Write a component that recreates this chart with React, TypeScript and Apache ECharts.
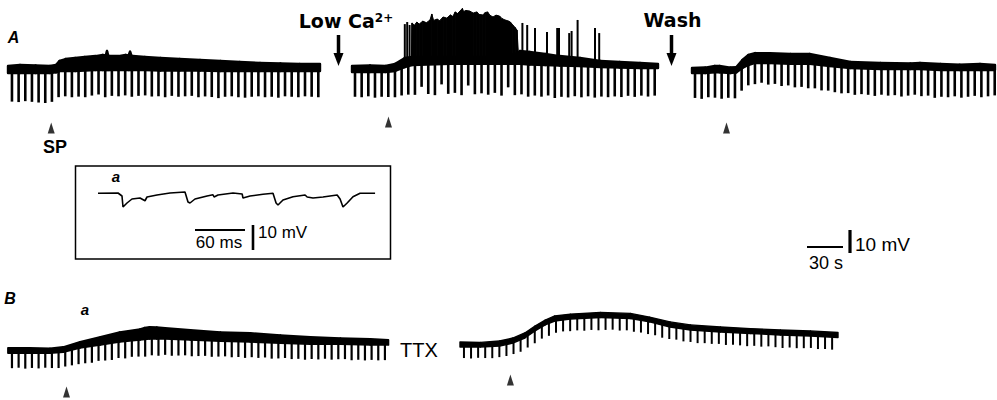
import React, { useEffect, useRef } from "react";
import * as echarts from "echarts";

// ---------- scales (figure calibration: 30 s = 36 px, 10 mV = 23 px) ----------
const PX_PER_S = 1.2;
const PX_PER_MV = 2.3;
const PULSE_PERIOD_S = 5.55;
const PULSE_PERIOD_B2_S = 5.9;

// ---------- A1: control ----------
const A1_T = [0, 10, 23, 35, 40, 43, 48, 56, 64, 73, 79, 81.5, 82.5, 83.5, 85, 92, 98, 100.5, 101.7, 103, 104, 114, 127, 143, 160, 177, 193, 210, 227, 243, 260];
const A1_TOP = [2.8, 3.2, 3.0, 2.8, 3.2, 5.0, 5.8, 6.3, 6.7, 7.1, 7.6, 7.4, 9.3, 7.3, 7.1, 7.1, 7.6, 7.4, 9.0, 7.2, 7.1, 6.7, 6.3, 5.8, 5.4, 5.0, 4.5, 4.1, 3.9, 3.7, 3.7];
const A1_BOT = [-0.3, -0.3, -0.3, -0.3, 0, 0.6, 0.6, 0.6, 0.8, 1.0, 1.0, 1.0, 1.0, 1.0, 1.0, 1.0, 1.0, 1.0, 1.0, 1.0, 1.0, 1.0, 0.8, 0.8, 0.8, 0.6, 0.6, 0.6, 0.6, 0.6, 0.6];
const A1_PULSE_DEPTH = [12.4, 12.6, 12.2, 12.5, 12.8, 13.0, 12.6, 11.2, 11.0, 11.4, 11.2, 11.6, 11.0, 10.6, 11.8, 11.2, 11.4, 11.0, 11.6, 11.2, 11.0, 11.4, 11.2, 11.6, 11.0, 11.4, 11.2, 11.0, 11.6, 11.2, 11.4, 11.8, 11.2, 11.0, 11.4, 11.6, 11.2, 11.0, 11.4, 11.2, 11.6, 11.0, 11.2, 11.4, 11.0, 11.2, 11.4];
const A1_PULSE_START = 3.3;
const A1_STIM_T = 36;

// ---------- A2: low Ca2+ ----------
const A2_T = [0, 15, 28, 36, 40, 44, 50, 82, 123, 138, 140, 148, 161, 173, 190, 207, 223, 240, 255];
const A2_TOP = [2.8, 3.0, 2.8, 3.7, 5.0, 6.3, 6.7, 6.7, 6.7, 8.4, 9.3, 8.9, 8.0, 7.1, 6.3, 5.0, 4.5, 4.1, 3.7];
const A2_BOT = [0.2, 0.2, 0.2, 0.6, 1.5, 2.3, 3.2, 3.7, 3.7, 3.7, 3.7, 3.4, 3.2, 3.0, 2.8, 2.3, 2.1, 1.9, 1.9];
const A2_PULSE_DEPTH = [10.8, 11.0, 10.6, 11.2, 10.8, 11.0, 11.4, 11.8, 12.4, 13.0, 9.6, 12.8, 13.4, 8.8, 13.0, 12.6, 13.6, 9.4, 13.2, 12.8, 13.4, 12.6, 13.8, 10.2, 13.6, 13.2, 14.0, 13.4, 13.8, 13.2, 14.2, 13.6, 13.8, 13.2, 13.6, 13.0, 13.4, 12.8, 13.0, 12.6, 12.8, 12.2, 12.6, 12.0, 12.4, 12.0];
const A2_PULSE_START = 2.5;
const A2_STIM_T = 30.4;
const A2_BURST_T = [49.5, 50, 52, 54, 56, 59, 62, 65, 66.5, 68, 71, 73, 76, 79, 82, 84, 86, 88, 90, 92, 93, 95, 98, 101, 104, 106, 109, 111, 113, 115, 117.5, 120, 123, 125, 127.5, 130, 132, 134, 136, 137.5, 138.5];
const A2_BURST_TOP = [6.0, 21.5, 20.5, 21.9, 21.0, 22.3, 21.6, 22.8, 25.4, 22.6, 23.2, 22.5, 24.1, 23.6, 25.0, 24.3, 26.3, 25.6, 26.7, 27.8, 26.5, 26.9, 26.7, 25.8, 26.3, 25.2, 25.0, 26.0, 26.3, 24.8, 24.1, 24.9, 24.5, 23.4, 22.8, 22.4, 21.9, 20.6, 19.5, 18.4, 9.7];
const A2_BURST_BASE = 5;
const A2_SPIKE_T = [44, 46, 48, 142, 146, 152.5, 162.5, 171, 172.5, 181, 183, 188, 202.5, 206];
const A2_SPIKE_TOP = [21.0, 21.9, 20.6, 21.5, 20.6, 19.3, 17.6, 19.3, 19.3, 17.1, 18.0, 22.8, 19.3, 17.1];

// ---------- A3: wash ----------
const A3_T = [0, 11, 19, 23, 32, 37, 42, 47, 52.5, 65, 82, 98, 115, 132, 157, 182, 190, 207, 223, 240, 252.5];
const A3_TOP = [1.9, 2.1, 2.8, 2.8, 2.1, 2.3, 5.4, 7.6, 8.4, 8.4, 8.0, 8.0, 6.3, 4.5, 4.1, 3.9, 4.1, 3.7, 3.4, 3.7, 3.2];
const A3_BOT = [-0.3, -0.3, 0, 0, -0.3, 0, 1.9, 3.2, 4.1, 4.1, 3.7, 3.7, 2.8, 1.9, 1.5, 1.5, 1.5, 1.0, 1.0, 1.0, 1.0];
const A3_PULSE_DEPTH = [10.8, 11.2, 10.6, 11.0, 11.4, 10.8, 11.2, 9.6, 8.8, 9.2, 8.6, 9.4, 9.0, 9.8, 9.4, 10.2, 10.0, 10.6, 10.4, 11.0, 10.8, 11.2, 11.4, 11.0, 11.6, 11.2, 11.4, 11.8, 11.2, 11.6, 11.4, 12.0, 11.6, 11.2, 11.8, 11.4, 12.2, 11.6, 11.8, 11.4, 12.0, 11.6, 11.2, 11.8, 11.4, 11.0];
const A3_PULSE_START = 2.5;
const A3_STIM_T = 28.75;

// ---------- B1: control ----------
const B1_T = [0, 18, 35, 46, 60, 77, 93, 110, 114, 118, 124, 131, 152, 177, 202, 227, 252, 277, 302, 317];
const B1_TOP = [2.2, 2.2, 2.0, 2.6, 4.8, 7.0, 9.1, 10.4, 11.0, 11.3, 11.2, 10.9, 10.0, 9.1, 8.7, 7.8, 7.0, 6.5, 6.1, 5.7];
const B1_BOT = [0, 0, 0, 0.4, 2.2, 3.5, 4.8, 5.7, 5.9, 6.1, 6.1, 6.1, 5.7, 5.2, 4.8, 4.3, 3.9, 3.9, 3.5, 3.5];
const B1_PULSE_DEPTH = [6.6, 6.4, 6.8, 6.5, 6.7, 6.4, 6.6, 6.8, 6.5, 6.7, 6.9, 7.0, 7.2, 6.8, 7.1, 7.3, 6.9, 7.4, 7.0, 7.2, 7.5, 7.1, 7.3, 6.9, 7.2, 7.0, 6.8, 7.1, 6.9, 6.7, 7.0, 6.8, 6.6, 6.9, 6.7, 7.0, 6.6, 6.8, 6.5, 6.9, 6.7, 6.4, 6.8, 6.6, 6.9, 6.5, 6.7, 6.4, 6.8, 6.6, 6.5, 6.9, 6.6, 6.8, 6.5, 6.7, 6.6];
const B1_PULSE_START = 3.3;
const B1_STIM_T = 48.75;

// ---------- B2: TTX ----------
const B2_T = [0, 17, 33, 44, 54, 62.5, 71, 79, 92, 117, 142, 158, 175, 192, 217, 242, 267, 292, 315];
const B2_TOP = [2.2, 2.0, 2.6, 3.9, 6.1, 9.1, 11.7, 13.5, 14.3, 15.0, 14.6, 13.0, 10.9, 9.6, 8.7, 8.0, 7.4, 7.0, 6.3];
const B2_BOT = [0, 0, 0.4, 1.7, 3.9, 7.0, 9.6, 11.3, 12.2, 12.8, 12.4, 10.9, 8.7, 7.4, 6.5, 5.9, 5.2, 4.8, 4.1];
const B2_PULSE_DEPTH = [4.8, 5.0, 4.7, 4.9, 5.1, 4.8, 5.0, 4.9, 5.2, 5.0, 5.3, 5.1, 5.4, 5.2, 5.0, 5.3, 5.1, 5.4, 5.2, 5.5, 5.3, 5.1, 5.4, 5.2, 5.5, 5.3, 5.4, 5.2, 5.5, 5.3, 5.1, 5.4, 5.2, 5.5, 5.3, 5.4, 5.2, 5.5, 5.3, 5.4, 5.6, 5.3, 5.5, 5.2, 5.4, 5.6, 5.3, 5.5, 5.4, 5.2, 5.5, 5.3, 5.4];
const B2_PULSE_START = 3.3;
const B2_STIM_T = 42;

// ---------- inset a (fast sweep) ----------
const INSET_T_MS = [0, 24, 28.8, 30, 34.8, 40.8, 50.4, 56.4, 58.8, 70.8, 86.4, 104.4, 108, 110.4, 116.4, 130.9, 138, 139.3, 144, 162, 173, 174, 182.5, 198, 210, 213.7, 216, 222, 234, 248.5, 251, 258, 270, 287, 290.5, 294, 299, 306, 314.5, 332.5];
const INSET_MV = [-0.1, 0, -1.2, -5.6, -4.0, -2.4, -2.0, -3.1, -1.6, -0.8, 0, 0.4, -3.6, -4.0, -2.4, -1.2, -0.7, -1.6, -0.8, 0, -0.4, -2.0, -1.2, -0.5, -0.1, -4.0, -4.8, -2.8, -1.5, -0.8, -1.6, -2.0, -1.6, -0.8, -2.4, -5.6, -4.0, -1.5, -0.1, -0.1];
const INSET_PX_PER_MS = 0.8333;
const INSET_PX_PER_MV = 2.5;

// ---------- scale bars ----------
const SCALE_MAIN = { t: 30, mv: 10, tLabel: "30 s", mvLabel: "10 mV" };
const SCALE_INSET = { t: 60, mv: 10, tLabel: "60 ms", mvLabel: "10 mV" };

const FONT = '"Liberation Sans", Arial, Helvetica, sans-serif';
const FONT_WIDE = '"DejaVu Sans", "Liberation Sans", sans-serif';

function interp(ts: number[], vs: number[], t: number) {
  if (t <= ts[0]) return vs[0];
  for (let i = 1; i < ts.length; i++) {
    if (t <= ts[i]) {
      const f = (t - ts[i - 1]) / (ts[i] - ts[i - 1]);
      return vs[i - 1] + f * (vs[i] - vs[i - 1]);
    }
  }
  return vs[vs.length - 1];
}

// band between a lower and an upper envelope, one quad per sample interval
function bandSeries(name: string, g: number, T: number[], TOP: number[], BOT: number[], edge: number, z: number) {
  return {
    type: "custom", name, xAxisIndex: g, yAxisIndex: g, silent: true, z,
    data: T.map((t, i) => [t, TOP[i], BOT[i]]),
    renderItem: (p: any, api: any) => {
      const i = p.dataIndex;
      if (i >= T.length - 1) return null;
      const a = api.coord([T[i], BOT[i]]);
      const b = api.coord([T[i], TOP[i]]);
      const c = api.coord([T[i + 1], TOP[i + 1]]);
      const d = api.coord([T[i + 1], BOT[i + 1]]);
      return {
        type: "polygon",
        shape: { points: [a, b, c, d] },
        style: { fill: "#000", stroke: "#000", lineWidth: edge, lineJoin: "round" },
      };
    },
  };
}

function buildOption() {
  const grid: any[] = [];
  const xAxis: any[] = [];
  const yAxis: any[] = [];
  const series: any[] = [];

  const addGrid = (left: number, zeroY: number, tMax: number, yMin: number, yMax: number, pxX: number, pxY: number) => {
    const idx = grid.length;
    grid.push({ left, top: zeroY - yMax * pxY, width: tMax * pxX, height: (yMax - yMin) * pxY });
    xAxis.push({ type: "value", gridIndex: idx, min: 0, max: tMax, show: false });
    yAxis.push({ type: "value", gridIndex: idx, min: yMin, max: yMax, show: false });
    return idx;
  };

  const addTrace = (name: string, g: number, T: number[], TOP: number[], BOT: number[], pStart: number, period: number, depths: number[], tickW: number, edge: number, stimT: number, stimMv: number) => {
    series.push(bandSeries(name + "-band", g, T, TOP, BOT, edge, 3));
    series.push({
      type: "custom", name: name + "-pulses", xAxisIndex: g, yAxisIndex: g, silent: true, z: 2,
      data: depths.map((d, i) => [pStart + i * period, d]),
      renderItem: (_p: any, api: any) => {
        const t = api.value(0);
        const d = api.value(1);
        const b = interp(T, BOT, t);
        const p1 = api.coord([t, b + 0.8]);
        const p2 = api.coord([t, b - d]);
        return { type: "line", shape: { x1: p1[0], y1: p1[1], x2: p2[0], y2: p2[1] }, style: { stroke: "#000", lineWidth: tickW } };
      },
    });
    series.push({
      type: "scatter", name: name + "-stim", xAxisIndex: g, yAxisIndex: g, silent: true,
      data: [[stimT, stimMv]], symbol: "triangle", symbolSize: [7, 11], itemStyle: { color: "#000" },
    });
  };

  const gA1 = addGrid(8, 72.4, 262, -27, 30, PX_PER_S, PX_PER_MV);
  const gA2 = addGrid(352, 72.4, 255, -27, 30, PX_PER_S, PX_PER_MV);
  const gA3 = addGrid(692, 72.4, 253, -27, 30, PX_PER_S, PX_PER_MV);
  const gB1 = addGrid(8, 353, 317, -20, 14, PX_PER_S, PX_PER_MV);
  const gB2 = addGrid(460, 347, 315, -18, 17, PX_PER_S, PX_PER_MV);
  const gIn = addGrid(98, 193, 332.5, -8, 4, INSET_PX_PER_MS, INSET_PX_PER_MV);
  const gSm = addGrid(807, 253, SCALE_MAIN.t, 0, SCALE_MAIN.mv, PX_PER_S, PX_PER_MV);
  const gSi = addGrid(195, 250, SCALE_INSET.t, 0, SCALE_INSET.mv, INSET_PX_PER_MS, INSET_PX_PER_MV);

  addTrace("A1", gA1, A1_T, A1_TOP, A1_BOT, A1_PULSE_START, PULSE_PERIOD_S, A1_PULSE_DEPTH, 2.6, 2.4, A1_STIM_T, -24.2);
  addTrace("A2", gA2, A2_T, A2_TOP, A2_BOT, A2_PULSE_START, PULSE_PERIOD_S, A2_PULSE_DEPTH, 2.6, 2.4, A2_STIM_T, -21.6);
  addTrace("A3", gA3, A3_T, A3_TOP, A3_BOT, A3_PULSE_START, PULSE_PERIOD_S, A3_PULSE_DEPTH, 2.6, 2.4, A3_STIM_T, -24.2);
  addTrace("B1", gB1, B1_T, B1_TOP, B1_BOT, B1_PULSE_START, PULSE_PERIOD_S, B1_PULSE_DEPTH, 2.2, 1.8, B1_STIM_T, -17);
  addTrace("B2", gB2, B2_T, B2_TOP, B2_BOT, B2_PULSE_START, PULSE_PERIOD_B2_S, B2_PULSE_DEPTH, 2.0, 1.4, B2_STIM_T, -14.3);

  // burst mass in low Ca2+
  series.push(bandSeries("burst", gA2, A2_BURST_T, A2_BURST_TOP, A2_BURST_T.map(() => A2_BURST_BASE), 1, 4));
  series.push({
    type: "custom", name: "spikes", xAxisIndex: gA2, yAxisIndex: gA2, silent: true, z: 4,
    data: A2_SPIKE_T.map((t, i) => [t, A2_SPIKE_TOP[i]]),
    renderItem: (_p: any, api: any) => {
      const t = api.value(0);
      const p1 = api.coord([t, A2_BURST_BASE]);
      const p2 = api.coord([t, api.value(1)]);
      return { type: "line", shape: { x1: p1[0], y1: p1[1], x2: p2[0], y2: p2[1] }, style: { stroke: "#000", lineWidth: 2 } };
    },
  });

  // inset trace
  series.push({
    type: "line", name: "inset", xAxisIndex: gIn, yAxisIndex: gIn, silent: true,
    data: INSET_T_MS.map((t, i) => [t, INSET_MV[i]]), symbol: "none",
    lineStyle: { color: "#000", width: 1.6 },
  });

  const scaleBar = (g: number, sb: any, hLevel: number, gap: number, hW: number, vW: number) => {
    series.push({
      type: "custom", name: "scale-" + sb.tLabel, xAxisIndex: g, yAxisIndex: g, silent: true,
      data: [[sb.t, sb.mv]],
      renderItem: (_p: any, api: any) => {
        const T = api.value(0);
        const M = api.value(1);
        const h1 = api.coord([0, hLevel]);
        const h2 = api.coord([T, hLevel]);
        const v1 = api.coord([T, 0]);
        const v2 = api.coord([T, M]);
        return {
          type: "group",
          children: [
            { type: "line", shape: { x1: h1[0], y1: h1[1], x2: h2[0], y2: h2[1] }, style: { stroke: "#000", lineWidth: hW } },
            { type: "line", shape: { x1: v1[0] + gap, y1: v1[1], x2: v2[0] + gap, y2: v2[1] }, style: { stroke: "#000", lineWidth: vW } },
          ],
        };
      },
    });
  };
  scaleBar(gSm, SCALE_MAIN, 2.6, 7, 2, 3.2);
  scaleBar(gSi, SCALE_INSET, 8, 8, 2, 2.6);

  const txt = (text: string, x: number, y: number, size: number, weight = "normal", style = "normal", align = "center", family = FONT) => ({
    type: "text", x, y, silent: true, z: 10,
    style: {
      text, fill: "#000", fontSize: size, fontWeight: weight, fontStyle: style, fontFamily: family,
      textAlign: align, align, textVerticalAlign: "middle", verticalAlign: "middle",
    },
  });
  const arrow = (x: number) => [
    { type: "line", silent: true, shape: { x1: x, y1: 35, x2: x, y2: 56 }, style: { stroke: "#000", lineWidth: 3.5 } },
    { type: "polygon", silent: true, shape: { points: [[x - 5, 53], [x + 5, 53], [x, 66]] }, style: { fill: "#000" } },
  ];

  const lowCa = {
    type: "text", x: 346, y: 21, silent: true, z: 10,
    style: {
      text: "Low Ca{sup|2+}", fill: "#000", fontSize: 19, fontWeight: "bold", fontFamily: FONT_WIDE,
      textAlign: "center", align: "center", textVerticalAlign: "middle", verticalAlign: "middle",
      rich: { sup: { fontSize: 12, fontWeight: "bold", fontFamily: FONT_WIDE, verticalAlign: "top", fill: "#000" } },
    },
  };

  const graphic = [
    txt("A", 13.5, 37, 16, "bold", "italic"),
    txt("B", 10, 298, 16, "bold", "italic"),
    txt("a", 85, 309, 15, "bold", "italic"),
    txt("a", 116, 176, 15, "bold", "italic"),
    lowCa,
    txt("Wash", 672.5, 20, 19, "bold", "normal", "center", FONT_WIDE),
    txt("SP", 55, 147, 18, "bold"),
    txt("TTX", 419, 350, 20),
    txt(SCALE_MAIN.mvLabel, 855, 244, 19, "normal", "normal", "left"),
    txt(SCALE_MAIN.tLabel, 826, 263, 18),
    txt(SCALE_INSET.tLabel, 219, 242, 17),
    txt(SCALE_INSET.mvLabel, 258, 232, 17, "normal", "normal", "left"),
    { type: "rect", silent: true, shape: { x: 75.5, y: 166, width: 315, height: 93 }, style: { fill: "none", stroke: "#000", lineWidth: 1.5 } },
    ...arrow(338.5),
    ...arrow(671.5),
  ];

  return { animation: false, backgroundColor: "#fff", grid, xAxis, yAxis, series, graphic };
}

export default function App() {
  const ref = useRef<HTMLDivElement>(null);
  useEffect(() => {
    if (!ref.current) return;
    const chart = echarts.init(ref.current, undefined, { renderer: "svg" });
    chart.setOption(buildOption() as any);
    return () => chart.dispose();
  }, []);
  return <div ref={ref} style={{ position: "fixed", left: 0, top: 0, width: 997, height: 400, background: "#fff" }} />;
}
